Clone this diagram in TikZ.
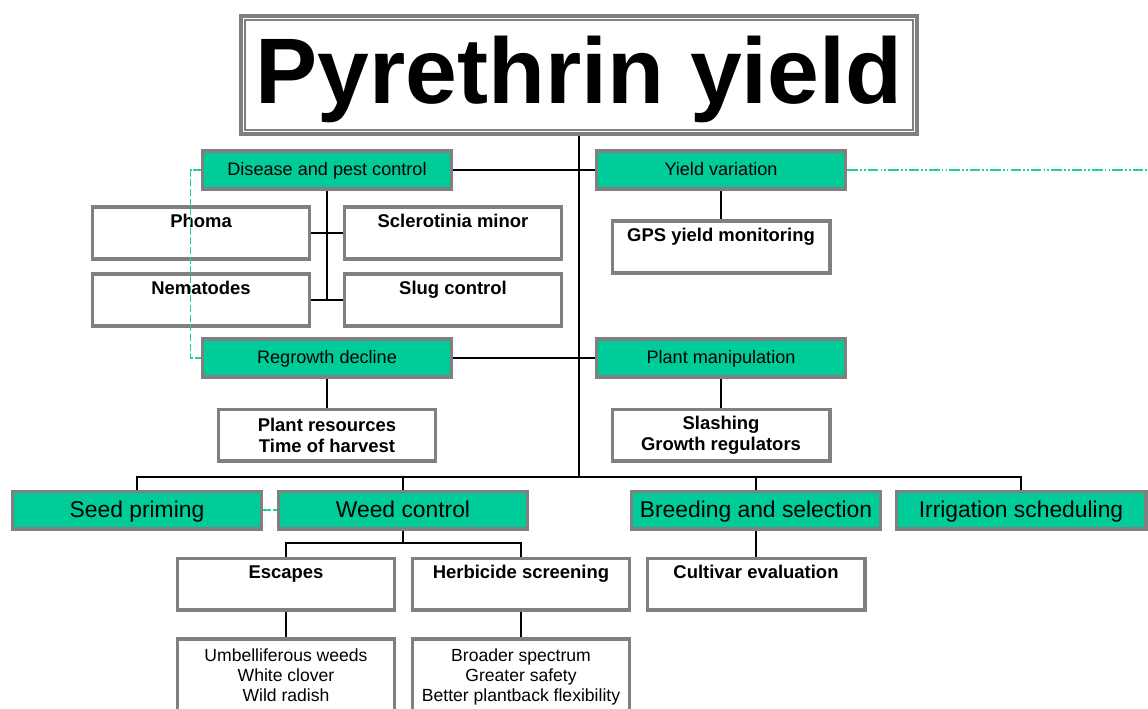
\documentclass[tikz,border=0pt]{standalone}
\usepackage{fontspec}
\setmainfont{Liberation Sans}
\definecolor{boxgreen}{HTML}{00CC99}
\definecolor{boxgray}{HTML}{808080}
\definecolor{linkgreen}{HTML}{20D0A0}
\begin{document}
\begin{tikzpicture}[x=0.02cm,y=-0.02cm,
	greenbox/.style={draw=boxgray,line width=2pt,fill=boxgreen,inner sep=0pt,minimum width=4.99cm,minimum height=0.75cm,text height=7.5pt,text depth=1pt,font=\fontsize{10.3}{12}\selectfont},
	bigbox/.style={greenbox,text height=9.5pt,text depth=1.5pt,font=\fontsize{13}{15}\selectfont},
	whitebox/.style={draw=boxgray,line width=2pt,fill=white,inner sep=0pt,minimum width=4.35cm,minimum height=1.03cm,align=center,font=\bfseries\fontsize{10.5}{12}\selectfont},
	topbox/.style={whitebox,text height=8pt,text depth=14pt},
	listbox/.style={whitebox,minimum height=1.56cm,execute at begin node=\strut,execute at end node=\strut,font=\fontsize{10}{11.3}\selectfont},
	link/.style={line width=1.3pt},
	greenlink/.style={draw=linkgreen,line width=1pt,dash pattern=on 4pt off 1.5pt}]
	\clip (0,0) rectangle (1148,709);
	\node[draw=boxgray,line width=2.2pt,minimum width=13.52cm,minimum height=2.36cm,inner sep=0pt,font=\bfseries\fontsize{53}{60}\selectfont,text height=38pt,text depth=5.3pt] (title) at (579,75) {Pyrethrin yield};
	\draw[boxgray,line width=0.8pt] ([shift={(6,6)}]title.north west) rectangle ([shift={(-6,-6)}]title.south east);
	\node[greenbox] (disease) at (327,170) {Disease and pest control};
	\node[greenbox] (yieldvar) at (721,170) {Yield variation};
	\node[greenbox] (regrowth) at (327,358) {Regrowth decline};
	\node[greenbox] (plantman) at (721,358) {Plant manipulation};
	\node[topbox] (phoma) at (201,233) {Phoma};
	\node[topbox] (sclero) at (453,233) {Sclerotinia minor};
	\node[topbox] (nemat) at (201,300) {Nematodes};
	\node[topbox] (slug) at (453,300) {Slug control};
	\node[topbox] (gps) at (721,247) {GPS yield monitoring};
	\node[whitebox] (plantres) at (327,435) {Plant resources\\Time of harvest};
	\node[whitebox] (slashing) at (721,435) {Slashing\\Growth regulators};
	\node[bigbox] (seed) at (137,510) {Seed priming};
	\node[bigbox] (weed) at (403,510) {Weed control};
	\node[bigbox] (breed) at (756,510) {Breeding and selection};
	\node[bigbox] (irrig) at (1021,510) {Irrigation scheduling};
	\node[topbox] (escapes) at (286,584) {Escapes};
	\node[topbox] (herbi) at (521,584) {Herbicide screening};
	\node[topbox] (cultivar) at (756,584) {Cultivar evaluation};
	\node[listbox] (weedlist) at (286,678) {Umbelliferous weeds\\White clover\\Wild radish};
	\node[listbox] (herbilist) at (521,678) {Broader spectrum\\Greater safety\\Better plantback flexibility};
	\coordinate (bus) at (579,477);
	\coordinate (split) at (403,543);
	\coordinate (edge) at (1148,170);
	\draw[link] (title.south) -- (bus);
	\draw[link] (seed.north) |- (bus) -| (irrig.north);
	\foreach \n in {weed,breed}
		\draw[link] (\n.north) -- (\n.north |- bus);
	\draw[link] (disease.east) -- (yieldvar.west);
	\draw[link] (regrowth.east) -- (plantman.west);
	\draw[link] (disease.south) -- (disease.south |- nemat.east);
	\draw[link] (phoma.east) -- (sclero.west);
	\draw[link] (nemat.east) -- (slug.west);
	\foreach \a/\b in {yieldvar/gps,regrowth/plantres,plantman/slashing,breed/cultivar,escapes/weedlist,herbi/herbilist}
		\draw[link] (\a.south) -- (\b.north);
	\draw[link] (weed.south) -- (split);
	\draw[link] (escapes.north) |- (split) -| (herbi.north);
	\draw[greenlink] (disease.west) -- ++(-10,0) |- (regrowth.west);
	\draw[greenlink] (seed.east) -- (weed.west);
	\draw[greenlink,dash pattern=on 6pt off 1.2pt on 1pt off 1.2pt on 1pt off 1.2pt] (yieldvar.east) -- (edge);
\end{tikzpicture}
\end{document}
